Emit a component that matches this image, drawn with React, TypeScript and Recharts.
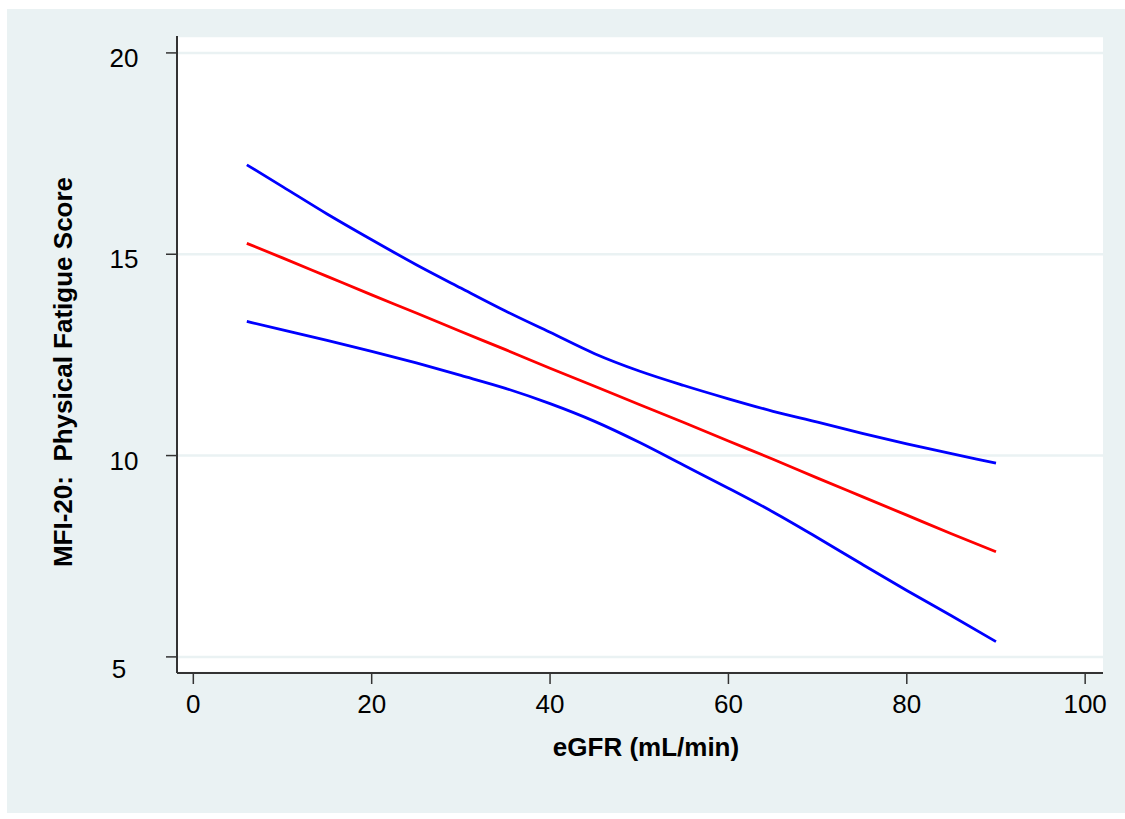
import React from "react";
import { LineChart, Line, XAxis, YAxis, CartesianGrid, Label } from "recharts";

const egfr = [6, 10, 15, 20, 25, 30, 35, 40, 45, 50, 55, 60, 65, 70, 75, 80, 85, 90];
const upperCI = [17.22, 16.68, 16.0, 15.36, 14.74, 14.16, 13.59, 13.06, 12.53, 12.1, 11.74, 11.41, 11.1, 10.83, 10.55, 10.29, 10.05, 9.81];
const predicted = [15.27, 14.91, 14.45, 13.99, 13.54, 13.08, 12.63, 12.17, 11.72, 11.27, 10.82, 10.36, 9.91, 9.44, 8.98, 8.52, 8.06, 7.61];
const lowerCI = [13.33, 13.12, 12.86, 12.59, 12.3, 11.99, 11.67, 11.29, 10.85, 10.33, 9.76, 9.19, 8.6, 7.96, 7.3, 6.65, 6.02, 5.38];

const xTicks = [0, 20, 40, 60, 80, 100];
const yTicks = [5, 10, 15, 20];
const xTitle = "eGFR (mL/min)";
const yTitle = "MFI-20:  Physical Fatigue Score";

const data = egfr.map((x, i) => ({
  x,
  upper: upperCI[i],
  fit: predicted[i],
  lower: lowerCI[i],
}));

const FONT = "'Liberation Sans', Arial, Helvetica, sans-serif";
const BG = "#eaf2f3";
const AXIS = "#333333";

const YTick = (props: any) => {
  const { x, y, payload } = props;
  const isMin = payload.value === yTicks[0];
  return (
    <text
      x={x - 40 - (isMin ? 5 : 0)}
      y={y + (isMin ? 21 : 14)}
      textAnchor="middle"
      fontFamily={FONT}
      fontSize={26}
      fill="#000"
    >
      {payload.value}
    </text>
  );
};

const XTick = (props: any) => {
  const { x, y, payload } = props;
  return (
    <text x={x} y={y + 18} textAnchor="middle" fontFamily={FONT} fontSize={26} fill="#000">
      {payload.value}
    </text>
  );
};

const XTitle = (props: any) => {
  const vb = props.viewBox || {};
  const cx = vb.x + vb.width / 2 + 6;
  return (
    <text x={cx} y={756} textAnchor="middle" fontFamily={FONT} fontSize={26} fontWeight="bold" fill="#000">
      {xTitle}
    </text>
  );
};

const YTitle = () => (
  <text
    x={0}
    y={0}
    transform="translate(72, 372) rotate(-90)"
    textAnchor="middle"
    fontFamily={FONT}
    fontSize={26}
    fontWeight="bold"
    fill="#000"
    style={{ whiteSpace: "pre" }}
  >
    {yTitle}
  </text>
);

export default function App() {
  return (
    <div style={{ position: "absolute", left: 0, top: 0, width: 1125, height: 819, background: "#fff" }}>
      <div style={{ position: "absolute", left: 7, top: 9, width: 1118, height: 804, background: BG }} />
      <div style={{ position: "absolute", left: 0, top: 0 }}>
        <LineChart
          width={1125}
          height={819}
          data={data}
          margin={{ top: 36, right: 22, bottom: 86, left: 77 }}
        >
          <CartesianGrid horizontal={true} vertical={false} stroke={BG} strokeWidth={2.5} fill="#ffffff" />
          <XAxis
            dataKey="x"
            type="number"
            domain={[-1.83, 102]}
            ticks={xTicks}
            allowDataOverflow
            height={60}
            tickSize={11}
            tickMargin={11}
            tick={<XTick />}
            axisLine={{ stroke: AXIS, strokeWidth: 2 }}
            tickLine={{ stroke: AXIS, strokeWidth: 1.5 }}
          >
            <Label content={<XTitle />} />
          </XAxis>
          <YAxis
            type="number"
            domain={[4.6, 20.42]}
            ticks={yTicks}
            allowDataOverflow
            width={100}
            tickSize={11}
            tickMargin={2}
            tick={<YTick />}
            axisLine={{ stroke: AXIS, strokeWidth: 2 }}
            tickLine={{ stroke: AXIS, strokeWidth: 1.5 }}
          >
            <Label content={<YTitle />} />
          </YAxis>
          <Line type="monotone" dataKey="upper" stroke="#0000ff" strokeWidth={2.8} dot={false} activeDot={false} isAnimationActive={false} />
          <Line type="monotone" dataKey="fit" stroke="#ff0000" strokeWidth={2.8} dot={false} activeDot={false} isAnimationActive={false} />
          <Line type="monotone" dataKey="lower" stroke="#0000ff" strokeWidth={2.8} dot={false} activeDot={false} isAnimationActive={false} />
        </LineChart>
      </div>
    </div>
  );
}
